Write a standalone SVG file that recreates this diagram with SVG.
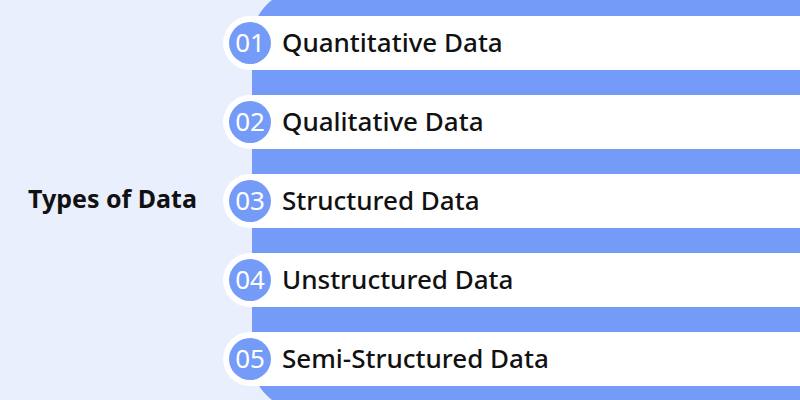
<svg xmlns="http://www.w3.org/2000/svg" width="800" height="400" viewBox="0 0 800 400">
<style>
.bar{fill:#FFFFFF}
.dot{fill:#759BF8}
.num{font-family:"Noto Sans",sans-serif;font-size:26px;fill:#FFFFFF;text-anchor:middle}
.lbl{font-family:"Noto Sans",sans-serif;font-size:26px;font-weight:500;fill:#111111}
.title{font-family:"Noto Sans",sans-serif;font-size:25px;font-weight:700;fill:#111111}
</style>
<rect x="0" y="0" width="800" height="400" fill="#E9EFFC"/>
<rect x="252" y="-10" width="600" height="420" rx="50" fill="#759BF8"/>
<g id="title"><text class="title" x="28" y="208">Types of Data</text></g>
<g id="item1">
<rect class="bar" x="223" y="16" width="620" height="54" rx="27"/>
<circle class="dot" cx="250" cy="43" r="21"/>
<text class="num" x="250" y="52">01</text>
<text class="lbl" x="282" y="52">Quantitative Data</text>
</g>
<g id="item2">
<rect class="bar" x="223" y="95" width="620" height="54" rx="27"/>
<circle class="dot" cx="250" cy="122" r="21"/>
<text class="num" x="250" y="131">02</text>
<text class="lbl" x="282" y="131">Qualitative Data</text>
</g>
<g id="item3">
<rect class="bar" x="223" y="174" width="620" height="54" rx="27"/>
<circle class="dot" cx="250" cy="201" r="21"/>
<text class="num" x="250" y="210">03</text>
<text class="lbl" x="282" y="210">Structured Data</text>
</g>
<g id="item4">
<rect class="bar" x="223" y="253" width="620" height="54" rx="27"/>
<circle class="dot" cx="250" cy="280" r="21"/>
<text class="num" x="250" y="289">04</text>
<text class="lbl" x="282" y="289">Unstructured Data</text>
</g>
<g id="item5">
<rect class="bar" x="223" y="332" width="620" height="54" rx="27"/>
<circle class="dot" cx="250" cy="359" r="21"/>
<text class="num" x="250" y="368">05</text>
<text class="lbl" x="282" y="368">Semi-Structured Data</text>
</g>
<g id="connectors"></g>
</svg>
